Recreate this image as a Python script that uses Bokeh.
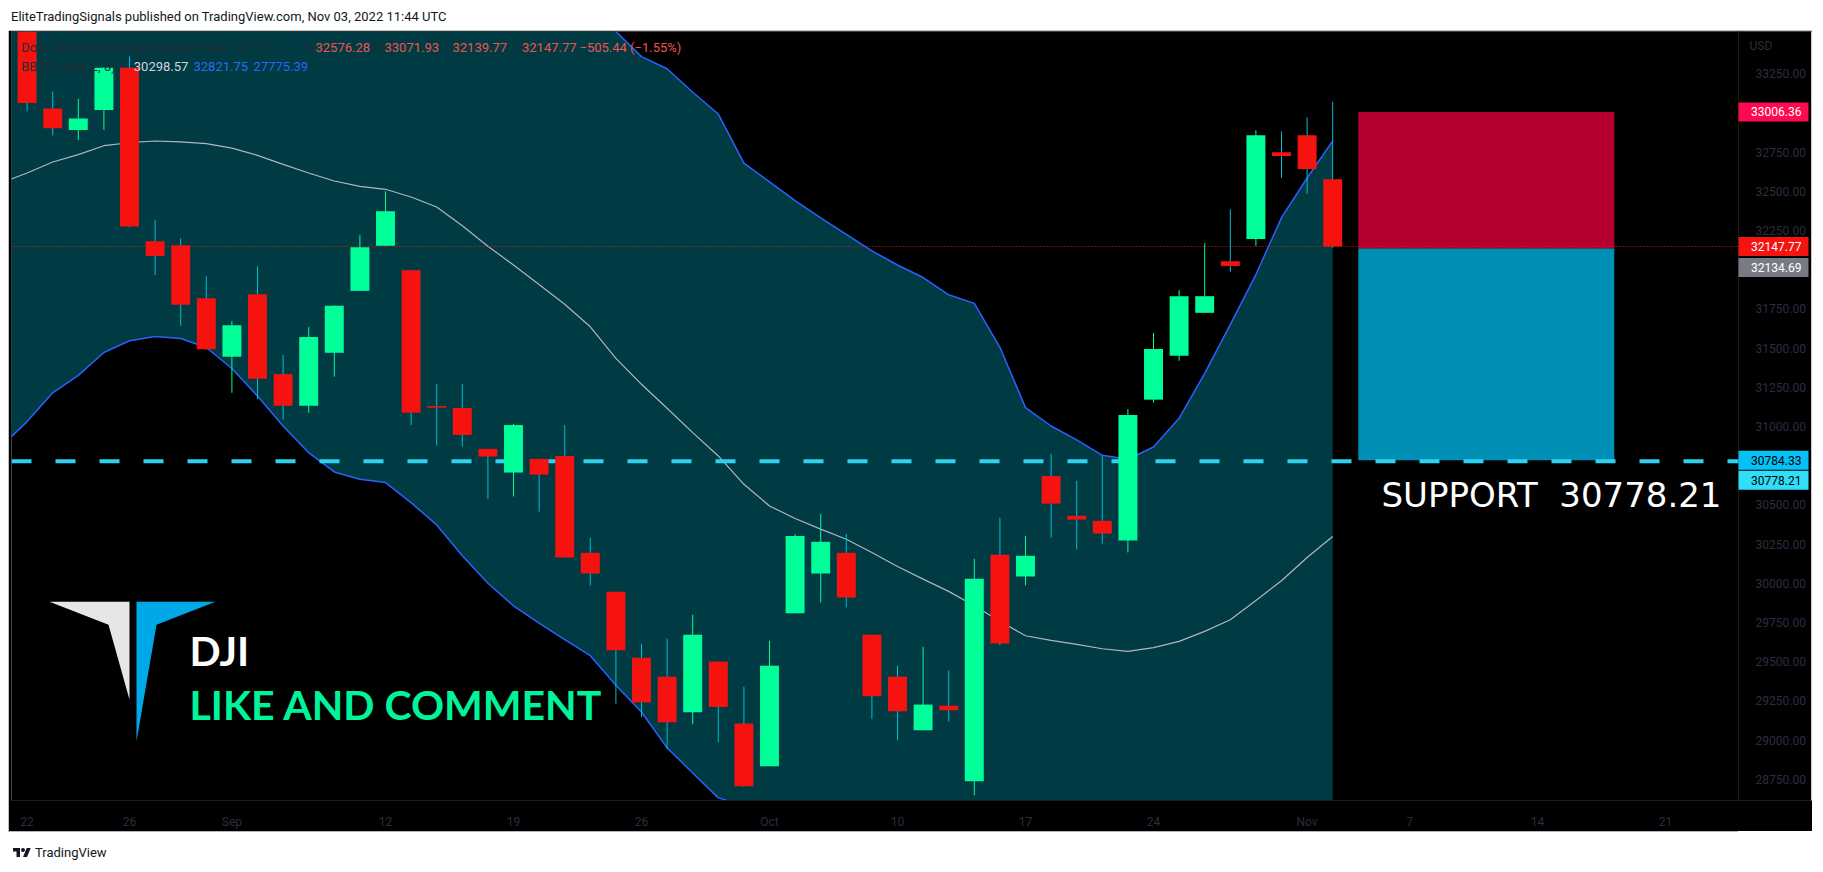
import subprocess
from bokeh.plotting import figure
from bokeh.models import Range1d, FixedTicker, PrintfTickFormatter, Label, Div, ColumnDataSource
from bokeh.layouts import column
from bokeh.embed import file_html
from bokeh.resources import INLINE
from bokeh.core.properties import value

try:
    _fams = subprocess.run(["fc-list", ":", "family"], capture_output=True, text=True, timeout=10).stdout
except Exception:
    _fams = ""
HAS_NARROW = "Liberation Sans Narrow" in _fams
UI_FONT = "Liberation Sans Narrow" if HAS_NARROW else "Roboto"
UI_SIZE = "15px" if HAS_NARROW else "13px"
AX_SIZE = "14.5px" if HAS_NARROW else "12px"

# ---------------- data ----------------
dates = [
    "2022-08-19",
    "2022-08-22", "2022-08-23", "2022-08-24", "2022-08-25", "2022-08-26",
    "2022-08-29", "2022-08-30", "2022-08-31", "2022-09-01", "2022-09-02",
    "2022-09-06", "2022-09-07", "2022-09-08", "2022-09-09",
    "2022-09-12", "2022-09-13", "2022-09-14", "2022-09-15", "2022-09-16",
    "2022-09-19", "2022-09-20", "2022-09-21", "2022-09-22", "2022-09-23",
    "2022-09-26", "2022-09-27", "2022-09-28", "2022-09-29", "2022-09-30",
    "2022-10-03", "2022-10-04", "2022-10-05", "2022-10-06", "2022-10-07",
    "2022-10-10", "2022-10-11", "2022-10-12", "2022-10-13", "2022-10-14",
    "2022-10-17", "2022-10-18", "2022-10-19", "2022-10-20", "2022-10-21",
    "2022-10-24", "2022-10-25", "2022-10-26", "2022-10-27", "2022-10-28",
    "2022-10-31", "2022-11-01", "2022-11-02",
]
future_dates = [
    "2022-11-03", "2022-11-04", "2022-11-07", "2022-11-08", "2022-11-09",
    "2022-11-10", "2022-11-11", "2022-11-14", "2022-11-15", "2022-11-16",
    "2022-11-17", "2022-11-18", "2022-11-21", "2022-11-22", "2022-11-23",
    "2022-11-25", "2022-11-28",
]
opens = [33900, 33600, 33029, 32891, 33018, 33288, 32181, 32156, 31818, 31445, 31844,
         31334, 31132, 31470, 31865, 32152, 31997, 31130, 31118, 30857, 30706, 30793,
         30812, 30194, 29945, 29525, 29404, 29177, 29500, 29105, 28833, 29808, 30062,
         30194, 29672, 29404, 29062, 29219, 28737, 30181, 30043, 30684, 30430, 30398,
         30273, 31171, 31451, 31725, 32054, 32196, 32749, 32857, 32576.28]
highs = [33950, 33620, 33137, 33090, 33292, 33360, 32319, 32201, 31958, 31672, 32022,
         31455, 31634, 31774, 32220, 32500, 31997, 31270, 31271, 30857, 31016, 30793,
         31009, 30290, 29945, 29614, 29646, 29799, 29500, 29340, 29633, 30313, 30442,
         30315, 29672, 29474, 29595, 29442, 30156, 30417, 30302, 30825, 30653, 30812,
         31111, 31596, 31869, 32169, 32385, 32889, 32882, 32972, 33071.93]
lows = [33660, 33010, 32857, 32827, 32891, 32270, 31965, 31642, 31490, 31215, 31175,
        31043, 31088, 31317, 31865, 32150, 31009, 30878, 30871, 30538, 30553, 30457,
        30164, 29986, 29232, 29145, 28943, 29100, 28986, 28701, 28833, 29808, 29878,
        29846, 29134, 28998, 29062, 29119, 28648, 29604, 29986, 30290, 30215, 30253,
        30196, 31152, 31419, 31725, 31986, 32152, 32585, 32483, 32139.77]
closes = [33706, 33063, 32903, 32965, 33288, 32276, 32088, 31776, 31493, 31646, 31304,
          31132, 31570, 31770, 32143, 32373, 31088, 31120, 30946, 30808, 31009, 30693,
          30164, 30062, 29572, 29240, 29113, 29672, 29211, 28705, 29474, 30302, 30264,
          29909, 29279, 29183, 29226, 29190, 30028, 29616, 30175, 30508, 30406, 30317,
          31073, 31494, 31831, 31831, 32024, 32857, 32725, 32642, 32147.77]

bb_basis = [32555, 32617, 32687, 32734, 32791, 32810, 32821, 32816, 32804, 32776, 32729,
            32672, 32617, 32566, 32532, 32513, 32464, 32400, 32280, 32150, 32030, 31905,
            31780, 31636, 31434, 31269, 31116, 30961, 30812, 30631, 30493, 30413, 30345,
            30281, 30196, 30107, 30026, 29948, 29856, 29757, 29665, 29635, 29610, 29582,
            29565, 29589, 29629, 29693, 29767, 29890, 30016, 30164, 30298.57]
bb_upper = [34234, 34203, 34159, 34142, 34110, 34073, 34068, 34071, 34104, 34182, 34264,
            34341, 34401, 34422, 34401, 34384, 34414, 34428, 34385, 34300, 34204, 34064,
            33920, 33734, 33519, 33359, 33282, 33132, 32993, 32680, 32560, 32440, 32330,
            32225, 32120, 32030, 31950, 31840, 31785, 31505, 31120, 31003, 30914, 30816,
            30791, 30869, 31052, 31339, 31650, 31969, 32332, 32585, 32821.75]
bb_lower = [30876, 31031, 31215, 31326, 31472, 31547, 31574, 31561, 31504, 31370, 31194,
            31003, 30833, 30710, 30663, 30642, 30514, 30372, 30175, 30000, 29856, 29746,
            29640, 29538, 29349, 29179, 28950, 28790, 28631, 28582, 28426, 28386, 28360,
            28337, 28272, 28184, 28102, 28056, 27927, 28009, 28210, 28267, 28306, 28348,
            28339, 28309, 28206, 28047, 27884, 27811, 27700, 27743, 27775.39]

tick_dates = ["2022-08-22", "2022-08-26", "2022-09-01", "2022-09-12", "2022-09-19",
              "2022-09-26", "2022-10-03", "2022-10-10", "2022-10-17", "2022-10-24",
              "2022-11-01", "2022-11-07", "2022-11-14", "2022-11-21"]
tick_labels = ["22", "26", "Sep", "12", "19", "26", "Oct", "10", "17", "24",
               "Nov", "7", "14", "21"]
price_ticks = [28750, 29000, 29250, 29500, 29750, 30000, 30250, 30500,
               31000, 31250, 31500, 31750, 32250, 32500, 32750, 33250]

support_level = 30778.21
support_level_2 = 30784.33
entry_level = 32134.69
stop_level = 33006.36
last_close = closes[-1]
box_start, box_end = "2022-11-03", "2022-11-17"

tag_values = [stop_level, last_close, entry_level, support_level_2, support_level]
tag_fill = ["#fe0a50", "#f5140f", "#787b86", "#06c1f4", "#30def8"]
tag_text_color = ["#ffffff", "#ffffff", "#ffffff", "#000000", "#000000"]
tag_shift_px = [0, 0, 19, 0, 19]

# ---------------- pixel <-> data helpers (for decorations) ----------------
def X(px):
    return (px - 1.0) / 25.6

def Y(py):
    return 33250 - (py - 73.3) / 0.15697

def PY(price):
    return 73.3 + (33250 - price) * 0.15697

calendar = dates + future_dates
xi = {d: i for i, d in enumerate(calendar)}
xs = [xi[d] for d in dates]

GREEN = "#00fe99"
RED = "#f6130f"
WICK_DN = "#00bcd4"
BAND_FILL = "#003a43"
BAND_LINE = "#2962ff"
AXIS_TXT = "#2a2f40"
DARK_TXT = "#262e35"
VAL_RED = "#ef5350"

p = figure(width=1804, height=801,
           x_range=Range1d(X(11), X(1811)), y_range=Range1d(Y(801), Y(31)),
           output_backend="svg", toolbar_location=None, y_axis_location="right",
           min_border_left=3, min_border_right=1, min_border_top=1, min_border_bottom=30,
           background_fill_color="#000000", border_fill_color="#000000",
           outline_line_color=None, title=None)
p.grid.visible = False

p.yaxis.ticker = FixedTicker(ticks=price_ticks)
p.yaxis.formatter = PrintfTickFormatter(format="%.2f")
p.xaxis.ticker = FixedTicker(ticks=[xi[d] for d in tick_dates])
p.xaxis.major_label_overrides = {xi[d]: lab for d, lab in zip(tick_dates, tick_labels)}
for ax in (p.xaxis, p.yaxis):
    ax.major_tick_line_color = None
    ax.minor_tick_line_color = None
    ax.major_label_text_color = AXIS_TXT
    ax.major_label_text_font = UI_FONT
    ax.major_label_text_font_size = AX_SIZE
p.xaxis.axis_line_color = "#1c1c1c"
p.yaxis.axis_line_color = "#c9cbd1"
p.yaxis.major_label_standoff = -62
p.xaxis.major_label_standoff = 8

# Bollinger band
p.varea(x=xs, y1=bb_lower, y2=bb_upper, fill_color=BAND_FILL)
p.line(xs, bb_upper, line_color=BAND_LINE, line_width=1.5)
p.line(xs, bb_lower, line_color=BAND_LINE, line_width=1.5)
p.line(xs, bb_basis, line_color="#b2b5be", line_width=1.2)

# price scale separator
p.segment(x0=X(1738), x1=X(1738), y0=Y(801), y1=Y(31), line_color="#1a1a1a", line_width=1)

# position tool boxes
p.quad(left=xi[box_start], right=xi[box_end], bottom=entry_level, top=stop_level,
       fill_color="#b5002f", line_color=None)
p.quad(left=xi[box_start], right=xi[box_end], bottom=support_level_2, top=entry_level,
       fill_color="#008fb4", line_color=None)

# last price dotted line and support dashed line
p.segment(x0=X(11), x1=X(1738), y0=last_close, y1=last_close,
          line_color=RED, line_width=1, line_dash="1 2")
p.segment(x0=X(11), x1=X(1738), y0=support_level, y1=support_level,
          line_color="#2bd3f2", line_width=4, line_dash="20 24")

# candles
up = [c >= o for o, c in zip(opens, closes)]
def sel(arr, flag):
    return [v for v, u in zip(arr, up) if u == flag]
ux, dx = sel(xs, True), sel(xs, False)
p.segment(x0=ux, x1=ux, y0=sel(highs, True), y1=sel(lows, True), line_color=GREEN, line_width=1)
p.segment(x0=dx, x1=dx, y0=sel(highs, False), y1=sel(lows, False), line_color=WICK_DN, line_width=1)
p.vbar(x=ux, top=sel(closes, True), bottom=sel(opens, True), width=0.74,
       fill_color=GREEN, line_color=None)
p.vbar(x=dx, top=sel(opens, False), bottom=sel(closes, False), width=0.74,
       fill_color=RED, line_color=None)

# logo
p.patch(x=[X(49), X(129), X(129), X(108)], y=[Y(602), Y(602), Y(700), Y(625)],
        fill_color="#e6e6e6", line_color=None)
p.patch(x=[X(136), X(215), X(156), X(136)], y=[Y(602), Y(602), Y(625), Y(742)],
        fill_color="#00a8e8", line_color=None)

# price tags on the price scale
tag_c = [PY(v) + s for v, s in zip(tag_values, tag_shift_px)]
tags = ColumnDataSource(dict(
    top=[Y(c - 9.5) for c in tag_c], bottom=[Y(c + 9.5) for c in tag_c],
    y=[Y(c) for c in tag_c], text=["%.2f" % v for v in tag_values],
    fill=tag_fill, color=tag_text_color))
p.quad(left=X(1738), right=X(1808), top="top", bottom="bottom", fill_color="fill",
       line_color=None, source=tags)
p.text(x=X(1750.5), y="y", text="text", text_color="color", text_font=value(UI_FONT),
       text_font_size=value(AX_SIZE), text_baseline="middle", text_align="left", source=tags)
p.text(x=[X(1749)], y=[Y(46)], text=["USD"], text_color=AXIS_TXT, text_font=value(UI_FONT),
       text_font_size=value(AX_SIZE), text_baseline="middle", text_align="left")

def lab(px, py, text, color, font=UI_FONT, size=UI_SIZE, style="normal",
        baseline="middle", align="left"):
    p.add_layout(Label(x=X(px), y=Y(py), text=text, text_color=color, text_font=font,
                       text_font_size=size, text_font_style=style,
                       text_baseline=baseline, text_align=align))

# legend lines
lab(20.7, 47, "Dow Jones Industrial Average Index, 1D, TVC", DARK_TXT)
lab(305, 47, "O", DARK_TXT)
lab(315, 47, "32576.28", VAL_RED)
lab(374.7, 47, "H", DARK_TXT)
lab(384, 47, "33071.93", VAL_RED)
lab(445, 47, "L", DARK_TXT)
lab(452, 47, "32139.77", VAL_RED)
lab(513, 47, "C", DARK_TXT)
lab(521.5, 47, "32147.77", VAL_RED)
lab(579, 47, "\u2212505.44 (\u22121.55%)", VAL_RED)
lab(20.7, 66, "BB (25, low, 2, 0)", DARK_TXT)
lab(133.3, 66, "30298.57", "#d1d4dc")
lab(193, 66, "32821.75", "#2d6cf5")
lab(253, 66, "27775.39", "#2f64ff")

# big texts
lab(189, 651, "DJI", "#ffffff", font="Lato", size="41px", style="bold", baseline="alphabetic")
lab(189, 705, "LIKE AND COMMENT", "#00f59b", font="Lato", size="41px", style="bold",
    baseline="alphabetic")
lab(1381, 495, "SUPPORT\u00a0 30778.21", "#ffffff", font="DejaVu Sans", size="34px",
    baseline="alphabetic")

header = Div(text=('<div style="height:22px;line-height:17px;padding-left:3px;'
                   'font-family:\'%s\';font-size:%s;color:#131722;white-space:nowrap">'
                   'EliteTradingSignals published on TradingView.com, Nov 03, 2022 11:44 UTC</div>')
             % (UI_FONT, "15px" if HAS_NARROW else "13px"),
             width=1804, height=22, margin=0)
footer = Div(text=('<div style="width:1730px;height:1px;background:#b2b5be"></div>'
                   '<div style="display:flex;align-items:center;height:30px;margin-top:6px;padding-left:4px;'
                   'font-family:\'%s\';font-size:%s;color:#131722;white-space:nowrap">'
                   '<svg width="20" height="14" viewBox="0 0 36 28"><path d="M14 22H7V11H0V4h14v18zM28 22h-8l7.5-18h8L28 22z" fill="#131722"/>'
                   '<circle cx="20" cy="8" r="4" fill="#131722"/></svg>'
                   '<span style="margin-left:3px">TradingView</span></div>')
             % (UI_FONT, "15px" if HAS_NARROW else "13px"),
             width=1804, height=37, margin=0)

layout = column(header, p, footer, spacing=0, margin=(8, 8, 0, 8))
open("out.html", "w").write(file_html(layout, INLINE))
